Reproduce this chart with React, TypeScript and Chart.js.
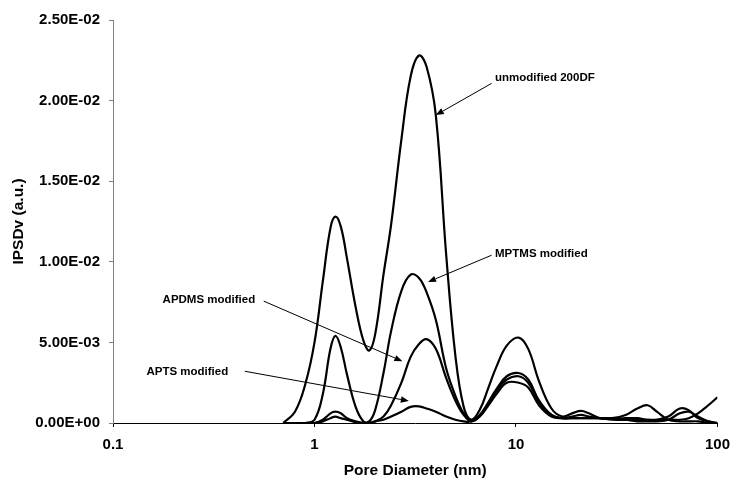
import React, { useEffect, useRef } from "react";
import { Chart, registerables } from "chart.js";

Chart.register(...registerables);

// Pore diameter (nm) sample positions
const poreDiameter = [
  0.7, 0.8, 0.9, 1.0, 1.1, 1.2, 1.27, 1.35, 1.45, 1.6,
  1.75, 1.87, 2.0, 2.2, 2.4, 2.7, 3.0, 3.3, 3.6, 4.0,
  4.5, 5.0, 5.5, 6.0, 6.6, 7.3, 8.0, 9.0, 10.3, 11.5,
  13, 15, 17, 19, 21, 23, 26, 30, 35, 40,
  45, 50, 57, 65, 72, 80, 90, 100,
];

const unmodified200DF = [
  0, 0.0007, 0.0024, 0.005, 0.0088, 0.0121, 0.0128, 0.0122, 0.0102, 0.0072,
  0.0051, 0.0045, 0.0055, 0.0092, 0.0123, 0.0176, 0.0215, 0.0228, 0.0221, 0.0191,
  0.0105, 0.0042, 0.001, 0.0002, 0.0008, 0.0022, 0.0035, 0.0048, 0.0053, 0.0046,
  0.0026, 0.0009, 0.0004, 0.0006, 0.00075, 0.0006, 0.0003, 0.00025, 0.0003, 0.0003,
  0.0002, 0.0002, 0.0004, 0.0009, 0.0008, 0.0003, 0.0001, 0,
];

const mptmsModified = [
  0, 0, 0, 0.0002, 0.0018, 0.0046, 0.0054, 0.0047, 0.003, 0.001,
  0.0001, 0.0001, 0.0008, 0.0031, 0.0057, 0.0082, 0.0092, 0.009, 0.0081, 0.0064,
  0.0034, 0.0017, 0.0006, 0.0002, 0.0005, 0.0013, 0.0021, 0.0029, 0.0031, 0.0027,
  0.0014, 0.0005, 0.0003, 0.0003, 0.0003, 0.0003, 0.0003, 0.0003, 0.0005, 0.0009,
  0.0011, 0.0007, 0.0002, 0.0001, 0.0001, 0.0001, 0, 0,
];

const apdmsModified = [
  0, 0, 0, 0, 0.0002, 0.0006, 0.0007, 0.0006, 0.0003, 0.0001,
  0, 0, 0.0001, 0.0004, 0.0011, 0.0025, 0.0041, 0.0049, 0.0052, 0.0046,
  0.0028, 0.0014, 0.0005, 0.0001, 0.0004, 0.0012, 0.002, 0.0027, 0.0029, 0.0025,
  0.0013, 0.0005, 0.0003, 0.0004, 0.0005, 0.0004, 0.0003, 0.0003, 0.0002, 0.0001,
  0.0001, 0.0001, 0.0002, 0.0006, 0.0007, 0.0004, 0.0001, 0,
];

const aptsModified = [
  0, 0, 0, 0, 0.0001, 0.0003, 0.0004, 0.0003, 0.0002, 0.00005,
  0, 0, 0.0001, 0.0002, 0.0004, 0.0007, 0.001, 0.00103, 0.0009, 0.0007,
  0.0004, 0.0002, 0.0001, 0.0001, 0.0004, 0.0011, 0.0018, 0.0025, 0.0025, 0.0022,
  0.0011, 0.0004, 0.0003, 0.0003, 0.0003, 0.0003, 0.0003, 0.0002, 0.0002, 0.0002,
  0.0002, 0.0002, 0.0002, 0.0002, 0.0003, 0.0006, 0.0011, 0.0016,
];

const xTickValues = [0.1, 1, 10, 100];
const yTickValues = [0, 0.005, 0.01, 0.015, 0.02, 0.025];

// Annotation labels with arrows (data coordinates)
const annotationTexts = ["unmodified 200DF", "MPTMS modified", "APDMS modified", "APTS modified"];
const annotationTextX = [7.87, 7.87, 0.508, 0.373];
const annotationTextY = [0.0214, 0.01047, 0.00762, 0.00317];
const annotationAlign = ["left", "left", "right", "right"];
const arrowFromX = [7.57, 7.57, 0.56, 0.451];
const arrowFromY = [0.02107, 0.01041, 0.00756, 0.00321];
const arrowToX = [4.0, 3.66, 2.73, 2.94];
const arrowToY = [0.0191, 0.00875, 0.00383, 0.00137];

const FONT = "'Liberation Sans', Arial, sans-serif";

function sci(v: number): string {
  if (Math.abs(v) < 1e-12) return "0.00E+00";
  const e = Math.floor(Math.log10(Math.abs(v)) + 1e-9);
  const m = v / Math.pow(10, e);
  const sign = e < 0 ? "-" : "+";
  return m.toFixed(2) + "E" + sign + String(Math.abs(e)).padStart(2, "0");
}

const arrowPlugin = {
  id: "arrowLabels",
  afterDatasetsDraw(chart: any) {
    const { ctx } = chart;
    const xs = chart.scales.x;
    const ys = chart.scales.y;
    ctx.save();
    ctx.font = `bold 11.5px ${FONT}`;
    ctx.fillStyle = "#000";
    ctx.strokeStyle = "#000";
    ctx.lineWidth = 1;
    ctx.textBaseline = "middle";
    for (let i = 0; i < annotationTexts.length; i++) {
      const tx = xs.getPixelForValue(annotationTextX[i]);
      const ty = ys.getPixelForValue(annotationTextY[i]);
      ctx.textAlign = annotationAlign[i];
      ctx.fillText(annotationTexts[i], tx, ty);

      const x1 = xs.getPixelForValue(arrowFromX[i]);
      const y1 = ys.getPixelForValue(arrowFromY[i]);
      const x2 = xs.getPixelForValue(arrowToX[i]);
      const y2 = ys.getPixelForValue(arrowToY[i]);
      const ang = Math.atan2(y2 - y1, x2 - x1);
      const len = 8;
      const w = 3.2;
      const bx = x2 - len * Math.cos(ang);
      const by = y2 - len * Math.sin(ang);
      ctx.beginPath();
      ctx.moveTo(x1, y1);
      ctx.lineTo(bx, by);
      ctx.stroke();
      ctx.beginPath();
      ctx.moveTo(x2, y2);
      ctx.lineTo(bx - w * Math.sin(ang), by + w * Math.cos(ang));
      ctx.lineTo(bx + w * Math.sin(ang), by - w * Math.cos(ang));
      ctx.closePath();
      ctx.fill();
    }
    ctx.restore();
  },
};

export default function App() {
  const canvasRef = useRef<HTMLCanvasElement | null>(null);

  useEffect(() => {
    if (!canvasRef.current) return;
    const mk = (ys: number[]) => poreDiameter.map((x, i) => ({ x, y: ys[i] }));
    const seriesList = [unmodified200DF, mptmsModified, apdmsModified, aptsModified];
    const names = ["unmodified 200DF", "MPTMS modified", "APDMS modified", "APTS modified"];
    const chart = new Chart(canvasRef.current, {
      type: "line",
      data: {
        datasets: seriesList.map((s, i) => ({
          label: names[i],
          data: mk(s),
          borderColor: "#000",
          borderWidth: 2.2,
          pointRadius: 0,
          fill: false,
          tension: 0.4,
        })),
      },
      options: {
        responsive: false,
        animation: false,
        layout: { padding: { left: 0, right: 13, top: 20, bottom: 0 } },
        plugins: { legend: { display: false }, tooltip: { enabled: false } },
        scales: {
          x: {
            type: "logarithmic",
            min: 0.1,
            max: 100,
            afterBuildTicks: (scale: any) => {
              scale.ticks = xTickValues.map((v) => ({ value: v }));
            },
            afterFit: (scale: any) => {
              scale.height = 57;
            },
            ticks: {
              autoSkip: false,
              maxRotation: 0,
              padding: 9,
              color: "#000",
              font: { family: FONT, size: 15, weight: "bold" },
              callback: (v: any) => String(Number(v)),
            },
            grid: { drawOnChartArea: false, drawTicks: true, tickLength: 4, color: "#000" },
            border: { display: true, color: "#000", width: 1 },
            title: {
              display: true,
              text: "Pore Diameter (nm)",
              color: "#000",
              font: { family: FONT, size: 15.5, weight: "bold" },
              padding: { top: 0, bottom: 0 },
            },
          },
          y: {
            type: "linear",
            min: 0,
            max: 0.025,
            afterBuildTicks: (scale: any) => {
              scale.ticks = yTickValues.map((v) => ({ value: v }));
            },
            afterFit: (scale: any) => {
              scale.width = 113;
            },
            ticks: {
              padding: 9,
              color: "#000",
              font: { family: FONT, size: 15, weight: "bold" },
              callback: (v: any) => sci(Number(v)),
            },
            grid: { drawOnChartArea: false, drawTicks: true, tickLength: 4, color: "#808080" },
            border: { display: true, color: "#808080", width: 1 },
            title: {
              display: true,
              text: "IPSDv (a.u.)",
              color: "#000",
              font: { family: FONT, size: 15.5, weight: "bold" },
              padding: { top: 9, bottom: 0 },
            },
          },
        },
      },
      plugins: [arrowPlugin],
    } as any);
    return () => chart.destroy();
  }, []);

  return (
    <div style={{ position: "fixed", left: 0, top: 0, width: 739, height: 480, background: "#fff" }}>
      <canvas ref={canvasRef} width={739} height={480} style={{ display: "block" }} />
    </div>
  );
}
